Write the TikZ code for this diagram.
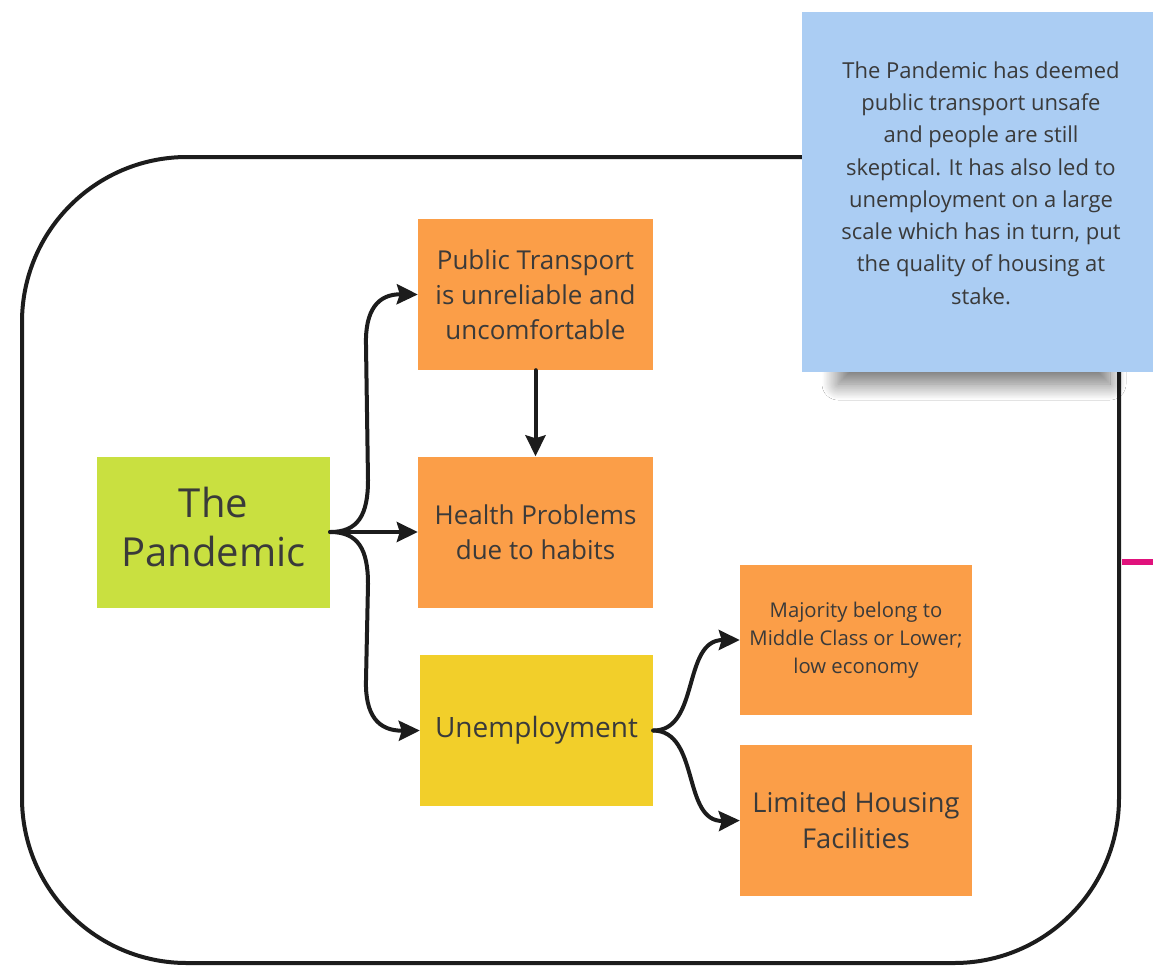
\documentclass[tikz,border=0pt]{standalone}
\usepackage{fontspec}
\setmainfont{Open Sans}
\usetikzlibrary{arrows.meta,shadows.blur}
\definecolor{ink}{HTML}{1C1C1C}
\definecolor{txt}{HTML}{3A3A3A}
\definecolor{boxorange}{HTML}{FB9E48}
\definecolor{boxgreen}{HTML}{C9E040}
\definecolor{boxyellow}{HTML}{F2CF2A}
\definecolor{noteblue}{HTML}{ABCDF3}
\definecolor{accent}{HTML}{E0127C}
\begin{document}
\begin{tikzpicture}[x=1pt,y=-1pt,
  card/.style={rectangle, inner sep=0pt, minimum width=235pt, minimum height=151pt,
    align=center, text=txt},
  conn/.style={line width=4pt, draw=ink, line cap=round,
    -{Stealth[length=21pt,width=20pt,inset=3pt]}}]
\useasboundingbox (0,0) rectangle (1153,967);
\clip (0,0) rectangle (1153,967);
\fill[white] (0,0) rectangle (1153,967);

% outer frame
\draw[line width=4pt, draw=ink, rounded corners=165pt] (22,157) rectangle (1119,963);

% stray connector leaving the frame on the right
\draw[line width=6pt, draw=accent] (1122,562) -- (1160,562);

% cards
\node[card, fill=boxgreen, minimum width=233pt, font=\fontsize{40}{50}\selectfont] (pan) at (213.5,532) {\raisebox{4pt}{\begin{tabular}{@{}c@{}}The\\[-1pt]Pandemic\end{tabular}}};
\node[card, fill=boxorange, font=\fontsize{26}{35}\selectfont] (pt) at (535.5,294.5) {Public Transport\\is unreliable and\\uncomfortable};
\node[card, fill=boxorange, font=\fontsize{26}{35}\selectfont] (hp) at (535.5,532) {Health Problems\\due to habits};
\node[card, fill=boxyellow, minimum width=233pt, font=\fontsize{28}{35}\selectfont] (un) at (536.5,730.5) {Unemployment};
\node[card, fill=boxorange, minimum width=232pt, minimum height=150pt, font=\fontsize{20.3}{28}\selectfont] (maj) at (856,640) {Majority belong to\\Middle Class or Lower;\\low economy};
\node[card, fill=boxorange, minimum width=232pt, font=\fontsize{27.3}{36}\selectfont] (lim) at (856,820.5) {Limited Housing\\Facilities};

% connectors from the pandemic
\draw[conn] (pan.east) .. controls (358,532) and (368,515) .. (368,480)
  -- (366,345) .. controls (365,310) and (378,294) .. (pt.west);
\draw[conn] (pan.east) -- (hp.west);
\draw[conn] (pan.east) .. controls (358,532) and (368,549) .. (368,584)
  -- (366,680) .. controls (365,715) and (378,731) .. (un.west);
\draw[conn] (pt.south) -- (hp.north);

% connectors from unemployment
\draw[conn] (un.east) .. controls (700,731) and (682,640) .. (maj.west);
\draw[conn] (un.east) .. controls (700,731) and (682,822) .. (lim.west);

% sticky note with soft shadow
\path[fill=noteblue, blur shadow={shadow xshift=0pt, shadow yshift=-12pt,
  shadow blur radius=16pt, shadow blur steps=25, shadow opacity=55}] (838,80) rectangle (1110,372);
\node[rectangle, fill=noteblue, inner sep=0pt, minimum width=358pt, minimum height=360pt,
  anchor=north west] (note) at (802,12) {};
\node[align=center, text=txt, font=\fontsize{22}{32.3}\selectfont] (notetext) at (981,183)
  {The Pandemic has deemed\\public transport unsafe\\and people are still\\skeptical. It has also led to\\unemployment on a large\\scale which has in turn, put\\the quality of housing at\\stake.};
\end{tikzpicture}
\end{document}
